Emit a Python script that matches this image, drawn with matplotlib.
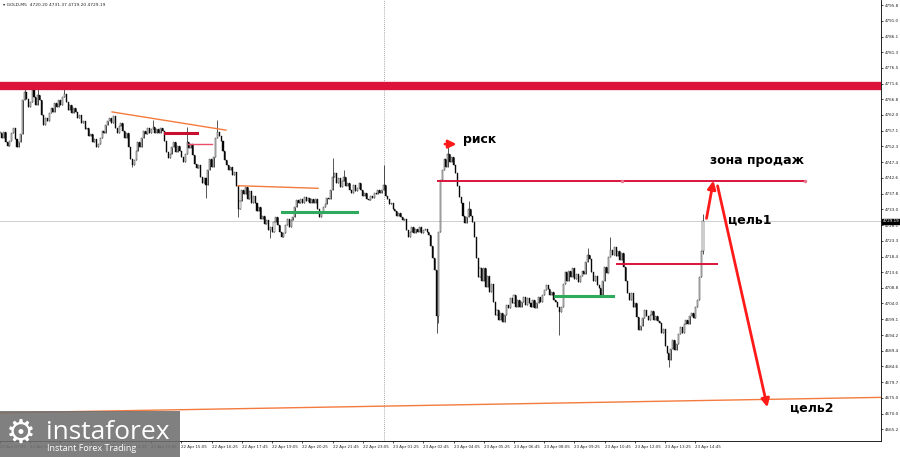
import matplotlib.pyplot as plt
from matplotlib.patches import Rectangle
import numpy as np

# M5 closes of GOLD (oldest first)
closes = [
    4756.5, 4755.0, 4756.8, 4753.8, 4752.5, 4754.0, 4756.5, 4758.0, 4754.5, 4752.0, 4753.5,
    4756.0, 4766.5, 4769.0,
    4767.0, 4764.5, 4766.0, 4769.5, 4767.5, 4765.0, 4768.0, 4766.5,
    4762.0, 4758.8,
    4761.0, 4760.0, 4762.5, 4764.0, 4763.0, 4765.5, 4764.5, 4766.5, 4765.0, 4767.5,
    4768.5,
    4766.0, 4763.5, 4765.0, 4762.5, 4764.0, 4763.0, 4761.0, 4762.0,
    4759.5, 4760.0, 4757.5, 4758.0, 4755.5, 4756.0, 4753.5, 4754.5, 4752.0, 4753.0,
    # 53
    4755.0, 4757.0, 4756.5, 4759.0, 4760.0,
    4761.0, 4759.5, 4761.5, 4758.0, 4756.4,
    4758.5, 4759.5, 4757.0, 4755.0, 4756.5,
    4752.0, 4748.5, 4746.5, 4748.0,
    4751.0, 4753.5, 4752.0, 4755.0,
    4757.0, 4756.0, 4758.0, 4756.5, 4757.5, 4758.3, 4756.5, 4757.8, 4756.4, 4758.0, 4757.0,
    4754.0, 4750.5, 4748.7, 4750.0,
    4752.0, 4753.5, 4750.5, 4752.5, 4751.0,
    4749.0, 4747.5, 4750.0,
    4753.5, 4751.8, 4753.0,
    4749.5, 4747.0, 4745.5, 4746.6,
    # 106
    4743.0, 4741.0, 4742.5, 4740.4,
    4745.0, 4748.5, 4746.0, 4749.0,
    4754.9, 4756.7, 4755.5, 4754.0,
    4751.0, 4748.0, 4746.6,
    4745.0, 4746.0, 4743.5, 4744.5,
    4740.0, 4733.0, 4735.5, 4739.0,
    4737.5, 4739.8, 4736.0, 4738.5, 4735.0, 4737.0, 4734.9,
    4732.5, 4733.5, 4730.0, 4731.0, 4728.5, 4729.5, 4726.6, 4727.5, 4726.0,
    4729.0, 4730.6, 4728.0,
    4726.0, 4724.4, 4725.5,
    4728.0, 4730.0, 4727.5, 4729.5, 4730.5,
    4733.5, 4735.8, 4734.9,
    # 159
    4736.0, 4735.0, 4736.7, 4735.5, 4736.5, 4734.9, 4736.2, 4735.0, 4736.0,
    4733.0, 4730.5, 4731.8,
    4733.5, 4734.5, 4736.5, 4736.0, 4738.9,
    4742.9, 4744.0,
    4741.0, 4742.5, 4739.8, 4741.5, 4743.0, 4740.0, 4741.0,
    4739.0, 4738.0, 4740.5, 4738.5, 4739.5, 4741.0,
    4739.0, 4737.0, 4738.0, 4736.0, 4735.8, 4737.0, 4736.5, 4738.0,
    4737.5, 4738.9, 4738.0, 4739.0,
    4740.5,
    4737.0, 4736.0, 4734.5, 4735.0, 4733.0, 4732.5, 4731.0, 4731.8,
    # 212
    4730.6, 4729.6, 4730.0,
    4726.6, 4724.4,
    4726.0, 4727.5, 4725.6, 4727.0, 4726.0, 4727.5, 4725.8, 4726.5, 4727.0, 4726.0, 4725.0,
    4721.5, 4718.0, 4714.3,
    4700.0, 4726.0, 4742.0,
    4745.0, 4748.5, 4746.0, 4750.0, 4747.5, 4749.0, 4746.5, 4744.1,
    4740.0, 4736.7,
    4734.9, 4731.0, 4728.7, 4730.5, 4733.0, 4731.0, 4729.0,
    4724.4, 4718.0, 4712.0, 4715.0,
    4711.0, 4714.9, 4709.0, 4712.5, 4707.5, 4710.0,
    4704.4, 4700.5, 4702.0, 4699.0,
    # 265
    4701.0, 4698.3, 4700.5,
    4703.5, 4702.6, 4705.5, 4704.0, 4706.6, 4703.0, 4705.0, 4702.8, 4704.5, 4706.0,
    4703.5, 4705.5, 4704.0, 4703.0, 4705.0, 4702.6, 4704.0, 4706.0, 4704.5, 4706.5,
    4708.0, 4709.6, 4708.5,
    4706.5, 4707.5, 4705.0, 4704.4, 4703.0,
    4701.3, 4703.0,
    4710.0, 4713.5, 4711.0,
    4714.0, 4712.0, 4714.9, 4711.5, 4713.0, 4710.6, 4712.5, 4714.0, 4713.0,
    4716.7, 4719.0, 4717.5,
    4713.6, 4711.0, 4712.5, 4709.6,
    4708.7,
    # 318
    4706.6,
    4711.0, 4715.2, 4713.3,
    4718.3, 4720.4, 4719.0,
    4721.3, 4718.5, 4720.0, 4717.3, 4719.5,
    4715.2, 4711.0, 4707.2,
    4705.0, 4707.2, 4702.9, 4704.0,
    4699.8, 4695.8, 4697.0,
    4699.5, 4701.9, 4700.0, 4698.9, 4700.5, 4701.5, 4699.0, 4700.0, 4698.5,
    4697.9, 4694.9, 4696.0,
    4691.0, 4688.8, 4686.6,
    4690.0, 4692.7, 4689.6, 4691.5,
    4694.5, 4696.7, 4695.0, 4697.5, 4699.0, 4697.5, 4700.0, 4701.0, 4699.5,
    4703.0, 4705.0,
    4712.0, 4720.2,
    4729.19,
]
# bars with visible wicks
high_bars = [13, 17, 20, 34, 81, 99, 115, 176, 182, 203, 237, 248, 311, 323, 372]
high_vals = [4770.6, 4771.8, 4771.6, 4771.2, 4760.4, 4758.3, 4760.4, 4748.7, 4745.0,
             4746.6, 4752.1, 4735.5, 4721.0, 4724.4, 4731.37]
low_bars = [70, 109, 126, 143, 231, 232, 296, 354, 372]
low_vals = [4745.9, 4736.4, 4730.5, 4724.1, 4694.9, 4698.0, 4694.3, 4684.4, 4719.20]

time_labels = ['22 Apr 07:05', '22 Apr 08:25', '22 Apr 09:45', '22 Apr 11:05', '22 Apr 12:25',
               '22 Apr 13:45', '22 Apr 15:05', '22 Apr 16:25', '22 Apr 17:45', '22 Apr 19:05',
               '22 Apr 20:25', '22 Apr 21:45', '22 Apr 23:05', '23 Apr 01:25', '23 Apr 02:45',
               '23 Apr 04:05', '23 Apr 05:25', '23 Apr 06:45', '23 Apr 08:05', '23 Apr 09:25',
               '23 Apr 10:45', '23 Apr 12:05', '23 Apr 13:25', '23 Apr 14:45']
price_ticks = [4795.8, 4791.0, 4786.1, 4781.3, 4776.5, 4771.6, 4766.8, 4762.0, 4757.1, 4752.3,
               4747.4, 4742.6, 4737.8, 4733.0, 4728.1, 4723.3, 4718.4, 4713.6, 4708.8, 4704.0,
               4699.1, 4694.2, 4689.4, 4684.6, 4679.7, 4675.0, 4670.0, 4665.2]

resistance = 4770.9
last_price = 4729.19

CRIMSON = '#dc143c'
ORANGE = '#f57a3d'
GREEN = '#2eaa5c'
RED = '#ff1a1a'

fig = plt.figure(figsize=(9, 4.57), dpi=100)
ax = fig.add_axes([0, 16 / 457, 881 / 900, 441 / 457])

c = np.array(closes)
o = np.r_[c[0], c[:-1]]
hi = np.maximum(o, c)
lo = np.minimum(o, c)
hi[high_bars] = high_vals
lo[low_bars] = low_vals
x = np.arange(len(c))
up = c >= o

ax.axhline(last_price, color='#c8c8c8', lw=0.6, zorder=1)
ax.axvline(203, color='#888888', lw=0.6, ls=(0, (1, 1.5)), zorder=1)
ax.vlines(x, lo, hi, color='#111111', lw=0.5, zorder=2)
ax.bar(x, np.maximum(np.abs(c - o), 0.15), bottom=np.minimum(o, c), width=0.55,
       color=np.where(up, 'white', 'black'), edgecolor='#111111', lw=0.3, zorder=3)

# levels drawn on the chart
ax.axhline(resistance, color=CRIMSON, lw=6, zorder=4)
ax.plot([59.3, 119.6], [4762.9, 4757.3], color=ORANGE, lw=1, zorder=4)
ax.plot([87.3, 104.3], [4756.5, 4756.5], color='#c8102e', lw=2.2, zorder=4)
ax.plot([99.5, 112.2], [4753.0, 4753.0], color='#e8506a', lw=1, zorder=4)
ax.plot([126.0, 168.3], [4740.2, 4739.4], color=ORANGE, lw=1, zorder=4)
ax.plot([149.2, 188.9], [4732.2, 4732.2], color=GREEN, lw=2.2, zorder=4)
ax.plot([231.8, 426.0], [4741.6, 4741.6], color=CRIMSON, lw=1.4, zorder=4)
ax.plot([329.1, 426.0], [4741.6, 4741.6], 'o', color='#e87890', ms=1.5, zorder=5)
ax.plot([326.5, 379.4], [4716.2, 4716.2], color=CRIMSON, lw=1.4, zorder=4)
ax.plot([293.7, 324.4], [4706.3, 4706.3], color=GREEN, lw=2.2, zorder=4)
ax.plot([0.0, 468.8], [4670.3, 4675.1], color=ORANGE, lw=1, zorder=4)

ax.annotate('', xy=(243.0, 4753.0), xytext=(233.9, 4753.0),
            arrowprops=dict(arrowstyle='-|>', color=RED, lw=1.8, mutation_scale=12), zorder=6)
ax.annotate('', xy=(377.8, 4742.6), xytext=(373.6, 4729.3),
            arrowprops=dict(arrowstyle='-|>', color=RED, lw=2, mutation_scale=12), zorder=6)
ax.annotate('', xy=(406.4, 4671.2), xytext=(379.4, 4741.0),
            arrowprops=dict(arrowstyle='-|>', color=RED, lw=2, mutation_scale=12), zorder=6)

tkw = dict(fontsize=9, fontweight='bold', color='black', va='center', ha='left', zorder=7)
ax.text(245.0, 4754.3, 'риск', **tkw)
ax.text(375.7, 4747.9, 'зона продаж', **tkw)
ax.text(385.2, 4729.6, 'цель1', **tkw)
ax.text(418.0, 4671.8, 'цель2', **tkw)

ax.set_xlim(0.04, 466.2)
ax.set_ylim(4661.65, 4797.34)
ax.set_xticks(list(range(0, 369, 16)))
ax.set_xticklabels(time_labels, ha='left', fontsize=2.9, color='#222222')
ax.yaxis.tick_right()
ax.set_yticks(price_ticks)
ax.set_yticklabels([f'{p:.1f}' for p in price_ticks], fontsize=3.0, color='#222222')
ax.tick_params(axis='both', length=1.5, width=0.5, pad=1.2)
for side in ['top', 'left']:
    ax.spines[side].set_visible(False)
for side in ['right', 'bottom']:
    ax.spines[side].set_linewidth(0.6)

ax.text(1.002, (last_price - 4661.65) / (4797.34 - 4661.65), f'{last_price:.2f}',
        transform=ax.transAxes, fontsize=3.0, color='white', va='center', ha='left',
        bbox=dict(boxstyle='square,pad=0.2', fc='black', ec='black'), clip_on=False)

fig.text(3 / 900, 1 - 5 / 457, '▾ GOLD,M5  4720.20 4731.37 4719.20 4729.19',
         fontsize=3.2, va='center', color='#222222')

# watermark logo, bottom left (semi-transparent, time labels show through)
fig.patches.append(Rectangle((0, 0), 180 / 900, 46 / 457, transform=fig.transFigure,
                             facecolor='#6f6f6f', alpha=0.88, edgecolor='none', zorder=10))
fig.text(6 / 900, 24 / 457, '⚙', fontsize=24, color='white', va='center', ha='left', zorder=11)
fig.text(46 / 900, 18 / 457, 'instaforex', family='Open Sans', fontsize=19, color='white',
         va='baseline', ha='left', zorder=11)
fig.text(47 / 900, 6 / 457, 'Instant Forex Trading', family='Open Sans', fontsize=6.5,
         color='white', va='baseline', ha='left', zorder=11)

fig.savefig('out.png', dpi=100)
